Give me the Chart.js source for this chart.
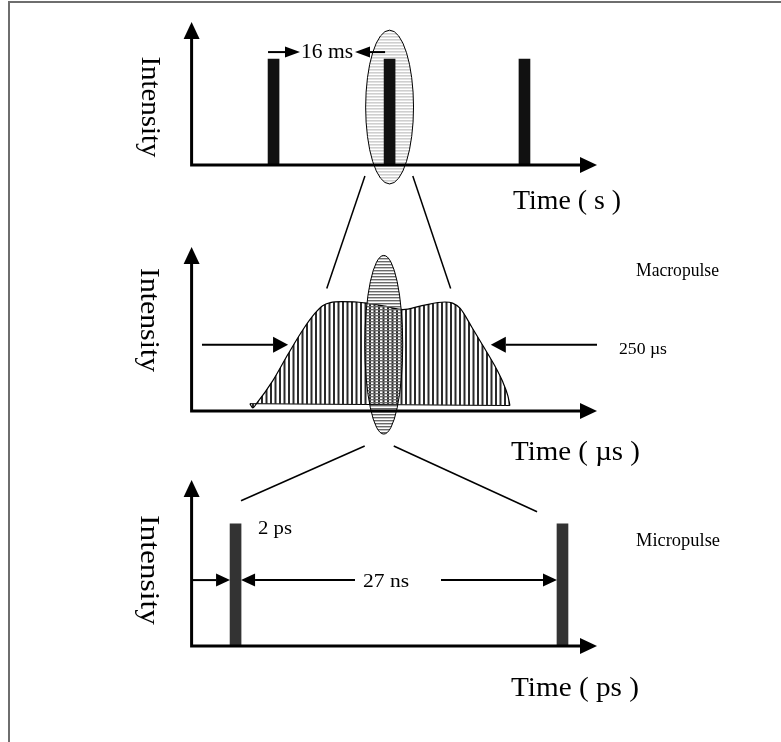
<!DOCTYPE html>
<html>
<head>
<meta charset="utf-8">
<title>Pulse structure</title>
<script src="https://cdn.jsdelivr.net/npm/chart.js@4.4.1/dist/chart.umd.min.js"></script>
<style>
  html, body { margin: 0; padding: 0; background: #fff; }
  #wrap { position: relative; width: 781px; height: 742px; }
  canvas { display: block; }
</style>
</head>
<body>
<div id="wrap"><canvas id="c" width="781" height="742"></canvas></div>
<script>
// ---- data ---------------------------------------------------------------
// Macropulse train: arrival times (ms) and relative intensity
const trainTimes = [0, 16, 34.6];
const trainLevel = [1, 1, 1];

// One macropulse envelope: time (µs) and relative intensity
const envTime  = [71.9, 75.6, 79.3, 100.2, 119.2, 138.1, 152.0, 161.6, 171.1, 185.2, 203.7, 215.8,
                  238.2, 260.6, 284.1, 312.4, 321.9, 331.3, 345.3, 359.6, 373.6, 383.1, 390.1, 392.6];
const envLevel = [0.067, 0.028, 0.060, 0.278, 0.523, 0.752, 0.892, 0.963, 0.991, 1.000, 0.997, 0.987,
                  0.959, 0.927, 0.963, 0.997, 0.987, 0.938, 0.771, 0.594, 0.418, 0.278, 0.138, 0.050];
// lower edge of the envelope
const floorTime  = [71.9, 392.6];
const floorLevel = [0.067, 0.050];
// half-maximum crossing points, µs (250 µs apart)
const fwhmEdges = [119, 369];

// Micropulses: times (ns) and relative intensity
const microTimes = [0, 27];
const microLevel = [1, 1];

// ---- layout -------------------------------------------------------------
const W = 781, H = 742;
const FONT = '"Liberation Serif", "Times New Roman", serif';

// pixel frame of each plot and the value range its axes cover
const panels = {
  train: { frame: { left: 191.6, right: 597, bottom: 165, top: 22 },  t: [-11.3, 44.6], i: [0, 1.35] },
  env:   { frame: { left: 191.6, right: 597, bottom: 411, top: 247 }, t: [0, 500],      i: [0, 1.5] },
  micro: { frame: { left: 191.6, right: 597, bottom: 646, top: 480 }, t: [-3.63, 29.85], i: [0, 1.36] }
};

function scaleX(p) {
  const k = (p.frame.right - p.frame.left) / (p.t[1] - p.t[0]);
  const min = p.t[0] - p.frame.left / k;
  return { type: 'linear', axis: 'x', position: 'bottom', display: false, offset: false,
           bounds: 'data', min: min, max: min + W / k, grid: { display: false }, ticks: { display: false } };
}
function scaleY(p) {
  const k = (p.frame.bottom - p.frame.top) / (p.i[1] - p.i[0]);
  const min = p.i[0] - (H - p.frame.bottom) / k;
  return { type: 'linear', axis: 'y', position: 'left', display: false, offset: false,
           bounds: 'data', min: min, max: min + H / k, grid: { display: false }, ticks: { display: false } };
}

// striped fills
function stripes(vertical, tile, bands, color) {
  const c = document.createElement('canvas');
  c.width = vertical ? tile : 4;
  c.height = vertical ? 4 : tile;
  const g = c.getContext('2d');
  g.fillStyle = color;
  bands.forEach(b => vertical ? g.fillRect(b[0], 0, b[1], 4) : g.fillRect(0, b[0], 4, b[1]));
  return g.createPattern(c, 'repeat');
}
const envHatch   = stripes(true, 9, [[0, 2], [4.5, 2]], '#2a2a2a');
const lensHatch  = stripes(false, 3, [[0, 1.4]], '#6a6a6a');
const trainHatch = stripes(false, 3, [[0, 1.6]], '#cfcfcf');

// highlighted regions (value units of their own plot)
const trainFocus = { x: 'x1', y: 'y1', t: 16,  dt: 3.3,  i: 0.547, di: 0.726, fill: trainHatch };
const envFocus   = { x: 'x2', y: 'y2', t: 237, dt: 23.4, i: 0.606, di: 0.817, fill: lensHatch };

// zoom lines between plots
const links = [
  { from: ['x1', 'y1', 12.6, -0.104], to: ['x2', 'y2', 166.7, 1.12] },
  { from: ['x1', 'y1', 19.2, -0.104], to: ['x2', 'y2', 319.5, 1.12] },
  { from: ['x2', 'y2', 213.5, -0.32], to: ['x3', 'y3', 0.45, 1.19] },
  { from: ['x2', 'y2', 249.3, -0.32], to: ['x3', 'y3', 24.9, 1.10] }
];

const BAR = 11;

// ---- drawing helpers ----------------------------------------------------
function textAt(ctx, s, x, y, size, width) {
  ctx.save();
  ctx.font = size + 'px ' + FONT;
  ctx.fillStyle = '#000';
  ctx.textAlign = 'left';
  ctx.textBaseline = 'alphabetic';
  const w = ctx.measureText(s).width;
  ctx.translate(x, y);
  if (width) ctx.scale(width / w, 1);
  ctx.fillText(s, 0, 0);
  ctx.restore();
}
function sideText(ctx, s, cx, cy, size, length) {
  ctx.save();
  ctx.font = size + 'px ' + FONT;
  ctx.fillStyle = '#000';
  ctx.textAlign = 'center';
  ctx.textBaseline = 'middle';
  const w = ctx.measureText(s).width;
  ctx.translate(cx, cy);
  ctx.rotate(Math.PI / 2);
  if (length) ctx.scale(length / w, 1);
  ctx.fillText(s, 0, 0);
  ctx.restore();
}
function arrow(ctx, x0, y0, x1, y1, head, half, lw) {
  const a = Math.atan2(y1 - y0, x1 - x0);
  const bx = x1 - head * Math.cos(a), by = y1 - head * Math.sin(a);
  ctx.save();
  ctx.strokeStyle = '#000';
  ctx.fillStyle = '#000';
  ctx.lineWidth = lw;
  ctx.beginPath(); ctx.moveTo(x0, y0); ctx.lineTo(bx, by); ctx.stroke();
  ctx.beginPath();
  ctx.moveTo(x1, y1);
  ctx.lineTo(bx + half * Math.sin(a), by - half * Math.cos(a));
  ctx.lineTo(bx - half * Math.sin(a), by + half * Math.cos(a));
  ctx.closePath(); ctx.fill();
  ctx.restore();
}
function axes(chart, xs, ys, p) {
  const ctx = chart.ctx;
  const X = v => chart.scales[xs].getPixelForValue(v);
  const Y = v => chart.scales[ys].getPixelForValue(v);
  const ox = X(p.t[0]), oy = Y(p.i[0]), tx = X(p.t[1]), ty = Y(p.i[1]);
  const head = 17, half = 8;
  ctx.save();
  ctx.strokeStyle = '#000';
  ctx.fillStyle = '#000';
  ctx.lineWidth = 3;
  ctx.lineJoin = 'miter';
  ctx.beginPath();
  ctx.moveTo(ox, ty + head - 1);
  ctx.lineTo(ox, oy);
  ctx.lineTo(tx - head + 1, oy);
  ctx.stroke();
  ctx.beginPath();
  ctx.moveTo(ox, ty); ctx.lineTo(ox - half, ty + head); ctx.lineTo(ox + half, ty + head); ctx.closePath();
  ctx.fill();
  ctx.beginPath();
  ctx.moveTo(tx, oy); ctx.lineTo(tx - head, oy - half); ctx.lineTo(tx - head, oy + half); ctx.closePath();
  ctx.fill();
  ctx.restore();
}
function lens(chart, f) {
  const ctx = chart.ctx;
  const xs = chart.scales[f.x], ys = chart.scales[f.y];
  const cx = xs.getPixelForValue(f.t), cy = ys.getPixelForValue(f.i);
  const rx = Math.abs(xs.getPixelForValue(f.t + f.dt) - cx);
  const ry = Math.abs(ys.getPixelForValue(f.i + f.di) - cy);
  ctx.save();
  ctx.beginPath();
  ctx.ellipse(cx, cy, rx, ry, 0, 0, Math.PI * 2);
  ctx.fillStyle = f.fill;
  ctx.fill();
  ctx.lineWidth = 1;
  ctx.strokeStyle = '#000';
  ctx.stroke();
  ctx.restore();
}

const diagram = {
  id: 'diagram',
  beforeDatasetsDraw(chart) {
    const ctx = chart.ctx;
    // page frame
    ctx.save();
    ctx.fillStyle = '#6e6e6e';
    ctx.fillRect(8, 1, W - 8, 2);
    ctx.fillRect(8, 1, 2, H - 1);
    ctx.restore();
    lens(chart, trainFocus);
  },
  afterDatasetsDraw(chart) {
    const ctx = chart.ctx;
    const S = id => chart.scales[id];
    lens(chart, envFocus);

    axes(chart, 'x1', 'y1', panels.train);
    axes(chart, 'x2', 'y2', panels.env);
    axes(chart, 'x3', 'y3', panels.micro);

    // zoom lines
    ctx.save();
    ctx.strokeStyle = '#000';
    ctx.lineWidth = 1.5;
    links.forEach(l => {
      ctx.beginPath();
      ctx.moveTo(S(l.from[0]).getPixelForValue(l.from[2]), S(l.from[1]).getPixelForValue(l.from[3]));
      ctx.lineTo(S(l.to[0]).getPixelForValue(l.to[2]), S(l.to[1]).getPixelForValue(l.to[3]));
      ctx.stroke();
    });
    ctx.restore();

    // 16 ms spacing marks
    const x1 = S('x1'), y1 = S('y1');
    const yA = y1.getPixelForValue(1.066);
    arrow(ctx, x1.getPixelForValue(trainTimes[0]) - BAR / 2, yA, 300, yA, 15, 5.5, 2);
    arrow(ctx, x1.getPixelForValue(trainTimes[1]) - BAR / 2 + 1, yA, 355, yA, 15, 5.5, 2);
    textAt(ctx, '16 ms', 301, 58, 20, 52);

    // 250 µs width marks
    const x2 = S('x2'), y2 = S('y2');
    const yB = y2.getPixelForValue(0.605);
    arrow(ctx, x2.getPixelForValue(12.8), yB, x2.getPixelForValue(fwhmEdges[0]), yB, 15, 8, 2);
    arrow(ctx, x2.getPixelForValue(panels.env.t[1]), yB, x2.getPixelForValue(fwhmEdges[1]), yB, 15, 8, 2);
    textAt(ctx, '250 \u00b5s', 619, 354, 17, 48);
    textAt(ctx, 'Macropulse', 636, 276, 18, 83);

    // 27 ns spacing marks
    const x3 = S('x3'), y3 = S('y3');
    const yC = y3.getPixelForValue(0.54);
    const p0 = x3.getPixelForValue(microTimes[0]), p1 = x3.getPixelForValue(microTimes[1]);
    arrow(ctx, x3.getPixelForValue(panels.micro.t[0]), yC, p0 - BAR / 2, yC, 14, 6.5, 2);
    arrow(ctx, 355, yC, p0 + BAR / 2, yC, 14, 6.5, 2);
    arrow(ctx, 441, yC, p1 - BAR / 2, yC, 14, 6.5, 2);
    textAt(ctx, '27 ns', 363, 587, 19, 46);
    textAt(ctx, '2 ps', 258, 534, 19, 34);
    textAt(ctx, 'Micropulse', 636, 546, 18, 84);

    // axis titles
    sideText(ctx, 'Intensity', 149.5, 107, 28, 101);
    sideText(ctx, 'Intensity', 148.5, 320, 28, 104);
    sideText(ctx, 'Intensity', 148.5, 570, 28, 110);
    textAt(ctx, 'Time ( s )', 513, 209, 27, 108);
    textAt(ctx, 'Time ( \u00b5s )', 511, 460, 27, 129);
    textAt(ctx, 'Time ( ps )', 511, 696, 27, 128);
  }
};

new Chart(document.getElementById('c'), {
  type: 'line',
  data: {
    datasets: [
      {
        type: 'bar', label: 'Macropulses',
        data: trainTimes.map((t, k) => ({ x: t, y: trainLevel[k] })),
        xAxisID: 'x1', yAxisID: 'y1',
        backgroundColor: '#111', borderWidth: 0, barThickness: BAR, grouped: false
      },
      {
        type: 'line', label: 'Macropulse envelope',
        data: envTime.map((t, k) => ({ x: t, y: envLevel[k] })),
        xAxisID: 'x2', yAxisID: 'y2',
        borderColor: '#000', borderWidth: 1.2, pointRadius: 0,
        cubicInterpolationMode: 'monotone',
        fill: '+1', backgroundColor: envHatch
      },
      {
        type: 'line', label: 'Envelope floor',
        data: floorTime.map((t, k) => ({ x: t, y: floorLevel[k] })),
        xAxisID: 'x2', yAxisID: 'y2',
        borderColor: '#000', borderWidth: 1, pointRadius: 0, fill: false
      },
      {
        type: 'bar', label: 'Micropulses',
        data: microTimes.map((t, k) => ({ x: t, y: microLevel[k] })),
        xAxisID: 'x3', yAxisID: 'y3',
        backgroundColor: '#333', borderWidth: 0, barThickness: BAR, grouped: false
      }
    ]
  },
  options: {
    responsive: false,
    animation: false,
    events: [],
    layout: { padding: 0, autoPadding: false },
    plugins: { legend: { display: false }, tooltip: { enabled: false }, title: { display: false } },
    scales: {
      x1: scaleX(panels.train), y1: scaleY(panels.train),
      x2: scaleX(panels.env),   y2: scaleY(panels.env),
      x3: scaleX(panels.micro), y3: scaleY(panels.micro)
    }
  },
  plugins: [diagram]
});
</script>
</body>
</html>
